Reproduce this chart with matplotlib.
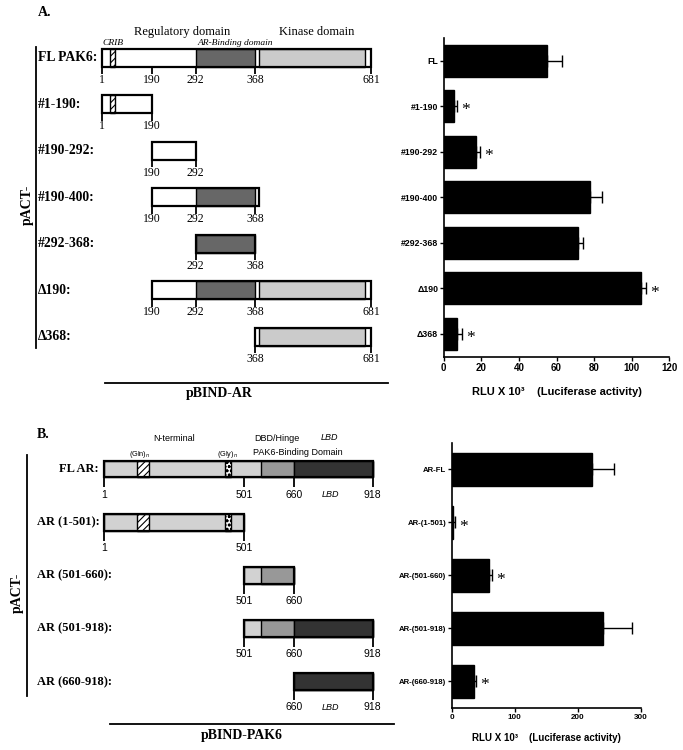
import numpy as np
import matplotlib
matplotlib.use("Agg")
import matplotlib.pyplot as plt
from matplotlib.patches import Rectangle
from matplotlib.lines import Line2D
from matplotlib.transforms import blended_transform_factory

# ---------------- Panel A: PAK6 constructs ----------------
pak6_names = ["FL PAK6:", "#1-190:", "#190-292:", "#190-400:", "#292-368:", "\u0394190:", "\u0394368:"]
pak6_start = [1, 1, 190, 190, 292, 190, 368]
pak6_end = [681, 190, 292, 400, 368, 681, 681]
pak6_ticks = [[1, 190, 292, 368, 681], [1, 190], [190, 292], [190, 292, 368],
              [292, 368], [190, 292, 368, 681], [368, 681]]
crib = (32, 52)
ar_binding = (292, 368)
kinase = (400, 670)

pak6_bar_labels = ["FL", "#1-190", "#190-292", "#190-400", "#292-368", "\u0394190", "\u0394368"]
pak6_rlu = [55, 5.6, 17.3, 78, 71.3, 105, 7]
pak6_err = [8, 1.6, 1.8, 6.4, 2.8, 2.5, 2.6]
pak6_sig = [False, True, True, False, False, True, True]

# ---------------- Panel B: AR constructs ----------------
ar_names = ["FL AR:", "AR (1-501):", "AR (501-660):", "AR (501-918):", "AR (660-918):"]
ar_start = [1, 1, 501, 501, 660]
ar_end = [918, 501, 660, 918, 918]
ar_ticks = [[1, 501, 660, 918], [1, 501], [501, 660], [501, 660, 918], [660, 918]]
poly_gln = (120, 163)
poly_gly = (433, 454)
dbd_hinge = (555, 660)
lbd = (660, 918)

ar_bar_labels = ["AR-FL", "AR-(1-501)", "AR-(501-660)", "AR-(501-918)", "AR-(660-918)"]
ar_rlu = [222, 2, 59, 239, 35]
ar_err = [36, 3, 5, 46, 4]
ar_sig = [False, True, True, False, True]

# ---------------- layout ----------------
W, H = 683, 750
SERIF = "Liberation Serif"
SANS = "Liberation Sans"
plt.rcParams["font.family"] = SANS
plt.rcParams["hatch.linewidth"] = 0.8

fig = plt.figure(figsize=(W / 100, H / 100), dpi=100)


def fx(x):
    return x / W


def fy(y):
    return 1 - y / H


def rect_px(x0, y0, x1, y1):
    return [fx(x0), fy(y1), fx(x1) - fx(x0), (y1 - y0) / H]


def schematic_scale(ax, breaks, px):
    # diagrams are not drawn to scale: piecewise-linear residue -> position
    frac = (np.array(px, float) - px[0]) / (px[-1] - px[0])
    br = np.array(breaks, float)
    ax.set_xscale("function", functions=(lambda x: np.interp(x, br, frac),
                                         lambda f: np.interp(f, frac, br)))
    ax.set_xlim(breaks[0], breaks[-1])


def draw_construct(ax, row, start, end, segments, ticks, h, tick_len, lab_off, num_font, num_size):
    for s, e, fc, hatch in segments:
        s2, e2 = max(s, start), min(e, end)
        if e2 <= s2:
            continue
        ax.add_patch(Rectangle((s2, row - h / 2), e2 - s2, h, facecolor=fc, hatch=hatch,
                               edgecolor="black", lw=1.0, clip_on=False))
    ax.add_patch(Rectangle((start, row - h / 2), end - start, h, fill=False,
                           edgecolor="black", lw=1.6, clip_on=False))
    for t in ticks:
        ax.plot([t, t], [row + h / 2, row + h / 2 + tick_len], color="black", lw=1.3,
                clip_on=False, solid_capstyle="butt")
        ax.text(t, row + lab_off, str(t), ha="center", va="center",
                family=num_font, fontsize=num_size)


# ---- diagram A ----
axd_a = fig.add_axes(rect_px(102, 34.5, 371, 360))
schematic_scale(axd_a, [1, 190, 292, 368, 400, 670, 681],
                [102, 152, 195.7, 255.3, 259.3, 365.3, 371])
axd_a.set_ylim(len(pak6_names) - 0.5, -0.5)
axd_a.axis("off")
seg_a = [(crib[0], crib[1], "white", "/////"),
         (ar_binding[0], ar_binding[1], "#676767", None),
         (kinase[0], kinase[1], "#cbcbcb", None)]
trans_a = blended_transform_factory(fig.transFigure, axd_a.transData)
for i, name in enumerate(pak6_names):
    draw_construct(axd_a, i, pak6_start[i], pak6_end[i], seg_a, pak6_ticks[i],
                   0.38, 0.16, 0.47, SERIF, 8.5)
    axd_a.text(fx(38), i, name, transform=trans_a, ha="left", va="center",
               family=SERIF, fontweight="bold", fontsize=9.8)

# domain captions just above the full-length box
axd_a.text(1, -0.24, "CRIB", family=SERIF, style="italic", fontsize=6.8, ha="left", va="bottom")
axd_a.text(sum(ar_binding) / 2 + 12, -0.24, "AR-Binding domain", family=SERIF, style="italic",
           fontsize=6.8, ha="center", va="bottom")

fig.text(fx(38), fy(12.7), "A.", family=SERIF, fontweight="bold", fontsize=10, va="center")
fig.text(fx(182.5), fy(31.7), "Regulatory domain", family=SERIF, fontsize=9, ha="center", va="center")
fig.text(fx(317), fy(31.7), "Kinase domain", family=SERIF, fontsize=9, ha="center", va="center")
fig.add_artist(Line2D([fx(36), fx(36)], [fy(46.7), fy(348)], color="black", lw=1.3))
fig.text(fx(27), fy(205), "pACT-", family=SERIF, fontweight="bold", fontsize=10,
         rotation=90, ha="center", va="center")
fig.add_artist(Line2D([fx(105), fx(388)], [fy(383.3), fy(383.3)], color="black", lw=1.3))
fig.text(fx(219), fy(393), "pBIND-AR", family=SERIF, fontweight="bold", fontsize=10,
         ha="center", va="center")

# ---- diagram B ----
axd_b = fig.add_axes(rect_px(104, 442.4, 372.7, 708.4))
schematic_scale(axd_b, [1, 501, 660, 918], [104, 244, 294, 372.7])
axd_b.set_ylim(len(ar_names) - 0.5, -0.5)
axd_b.axis("off")
seg_b = [(1, 918, "#d2d2d2", None),
         (poly_gln[0], poly_gln[1], "white", "/////"),
         (poly_gly[0], poly_gly[1], "white", "oooo"),
         (dbd_hinge[0], dbd_hinge[1], "#989898", None),
         (lbd[0], lbd[1], "#333333", None)]
trans_b = blended_transform_factory(fig.transFigure, axd_b.transData)
for i, name in enumerate(ar_names):
    draw_construct(axd_b, i, ar_start[i], ar_end[i], seg_b, ar_ticks[i],
                   0.314, 0.19, 0.48, SANS, 7.5)
    if i == 0:
        axd_b.text(fx(99), i, name, transform=trans_b, ha="right", va="center",
                   family=SERIF, fontweight="bold", fontsize=9)
    else:
        axd_b.text(fx(36.7), i, name, transform=trans_b, ha="left", va="center",
                   family=SERIF, fontweight="bold", fontsize=9)
    if ar_start[i] <= lbd[0] and ar_end[i] == lbd[1] and ar_start[i] != 501:
        axd_b.text((lbd[0] + lbd[1]) / 2 - 10, i + 0.48, "LBD", style="italic",
                   fontsize=6.5, ha="center", va="center")

fig.text(fx(37), fy(435), "B.", family=SERIF, fontweight="bold", fontsize=10, va="center")
fig.text(fx(174), fy(438.3), "N-terminal", fontsize=6.5, ha="center", va="center")
fig.text(fx(277), fy(438.3), "DBD/Hinge", fontsize=6.5, ha="center", va="center")
fig.text(fx(329.7), fy(437), "LBD", fontsize=6.5, style="italic", ha="center", va="center")
fig.text(fx(297.8), fy(452.7), "PAK6-Binding Domain", fontsize=6.5, ha="center", va="center")
fig.text(fx(140), fy(455), "(Gln)$_n$", fontsize=5.3, ha="center", va="center")
fig.text(fx(227), fy(455), "(Gly)$_n$", fontsize=5.3, ha="center", va="center")
fig.add_artist(Line2D([fx(26.5), fx(26.5)], [fy(455), fy(696)], color="black", lw=1.3))
fig.text(fx(17), fy(593), "pACT-", family=SERIF, fontweight="bold", fontsize=10,
         rotation=90, ha="center", va="center")
fig.add_artist(Line2D([fx(110), fx(394)], [fy(724), fy(724)], color="black", lw=1.3))
fig.text(fx(241.7), fy(735), "pBIND-PAK6", family=SERIF, fontweight="bold", fontsize=10,
         ha="center", va="center")


# ---- bar charts ----
def bar_panel(ax, labels, vals, errs, sig, xmax, step, height, lab_size, tick_size):
    y = np.arange(len(labels))
    ax.barh(y, vals, height=height, color="black", edgecolor="black")
    ax.errorbar(vals, y, xerr=[np.zeros(len(vals)), errs], fmt="none", ecolor="black",
                elinewidth=1.0, capsize=4.5, capthick=1.0)
    for i, s in enumerate(sig):
        if s:
            ax.annotate("*", (vals[i] + errs[i], i), xytext=(3, -3), textcoords="offset points",
                        ha="left", va="center", family=SERIF, fontsize=12.5)
    ax.set_ylim(len(labels) - 0.5, -0.5)
    ax.set_xlim(0, xmax)
    ax.set_xticks(np.arange(0, xmax + 1, step))
    ax.set_yticks(y)
    ax.set_yticklabels(labels)
    for sp in ["top", "right"]:
        ax.spines[sp].set_visible(False)
    for sp in ["left", "bottom"]:
        ax.spines[sp].set_linewidth(1.2)
    ax.tick_params(axis="y", length=3, width=1, pad=1, labelsize=lab_size)
    ax.tick_params(axis="x", length=3, width=1, pad=1.5, labelsize=tick_size)
    for t in ax.get_xticklabels() + ax.get_yticklabels():
        t.set_fontweight("bold")


ax_a = fig.add_axes(rect_px(443.7, 38, 669.3, 356.7))
bar_panel(ax_a, pak6_bar_labels, pak6_rlu, pak6_err, pak6_sig, 120, 20, 0.7, 6.3, 7)
ax_a.set_xlabel("RLU X 10\u00b3    (Luciferase activity)", fontweight="bold", fontsize=8, labelpad=10)

ax_b = fig.add_axes(rect_px(451.7, 443, 641, 707.7))
bar_panel(ax_b, ar_bar_labels, ar_rlu, ar_err, ar_sig, 300, 100, 0.63, 5.6, 5.8)
ax_b.set_xlabel("RLU X 10\u00b3    (Luciferase activity)", fontweight="bold", fontsize=7, labelpad=9)

fig.savefig("out.png", dpi=100)
